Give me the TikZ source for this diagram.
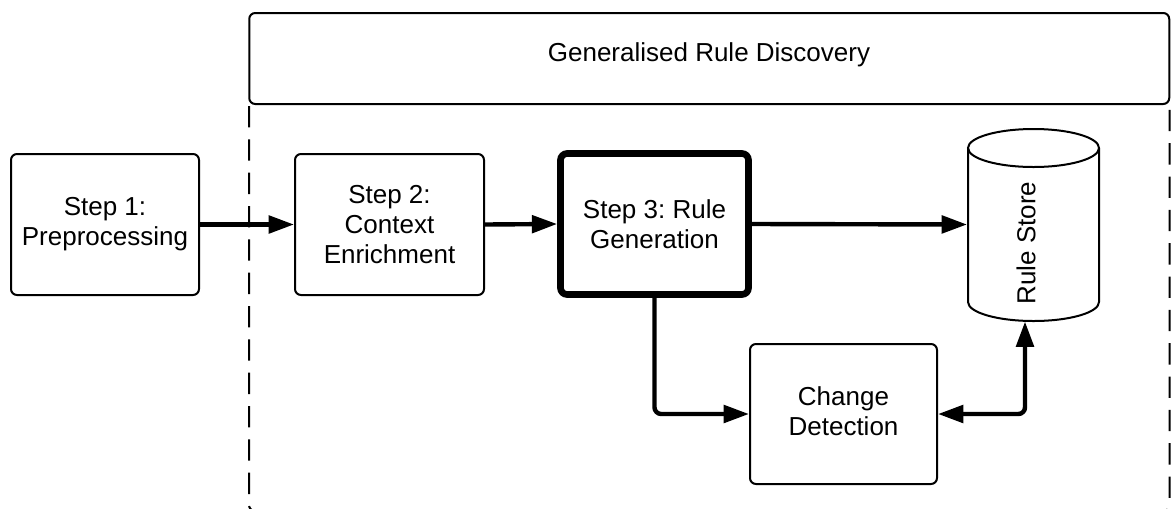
\documentclass[tikz,border=0pt]{standalone}
\usepackage{fontspec}
\setmainfont{Liberation Sans}
\usetikzlibrary{arrows.meta}
\frenchspacing
\begin{document}
\begin{tikzpicture}[x=0.75pt,y=-0.75pt,
  every node/.style={font=\fontsize{19.5pt}{22.5pt}\selectfont, align=center, inner sep=0pt},
  box/.style={draw, line width=1.5pt, rounded corners=4.5pt},
  thickbox/.style={draw, line width=5pt, rounded corners=5pt},
  arr/.style={line width=3.3pt, rounded corners=5pt,
    -{Triangle[length=19pt,width=13pt]}},
  dblarr/.style={line width=3.3pt, rounded corners=5pt,
    {Triangle[length=19pt,width=13pt]}-{Triangle[length=19pt,width=13pt]}},
  frame/.style={line width=1.5pt, dash pattern=on 16pt off 9pt, rounded corners=4.5pt}
]
\useasboundingbox (0,0) rectangle (1171,508);

% dashed container below the header
\draw[frame] (249,106) -- (249,511) -- (1169.5,511) -- (1169.5,106);

% header
\node[box, minimum width=690pt, minimum height=68.25pt] (hdr) at (709.25,58.5) {};
\node (hdrtxt) at (709,55) {Generalised Rule Discovery};

% process steps
\node[box, minimum width=141pt, minimum height=105.75pt] (s1) at (105,224.5)
  {Step 1:\\Preprocessing};
\node[box, minimum width=141.75pt, minimum height=105.75pt] (s2) at (389.5,224.5)
  {Step 2:\\Context\\Enrichment};
\node[thickbox, minimum width=141pt, minimum height=105.75pt] (s3) at (654.5,224)
  {Step 3: Rule\\Generation};
\node[box, minimum width=140.25pt, minimum height=105pt] (cd) at (843.5,414)
  {\raisebox{2pt}{\begin{tabular}{@{}c@{}}Change\\Detection\end{tabular}}};

% rule store cylinder
\draw[line width=1.5pt] (968,148) -- (968,302)
  arc[start angle=180, end angle=0, x radius=65.5, y radius=19] -- (1099,148);
\draw[line width=1.5pt] (1033.5,148) ellipse[x radius=65.5, y radius=19];
\node[rotate=90] (store) at (1026,243) {Rule Store};
\coordinate (storeL) at (967,224.5);
\coordinate (storeB) at (1025,321.5);

% connectors
\draw[arr] (s1.east) -- (s2.west);
\draw[arr] (s2.east) -- (s3.west);
\draw[arr] (s3.east) -- (storeL);
\draw[arr] (s3.south) |- (cd.west);
\draw[dblarr] (cd.east) -| (storeB);
\end{tikzpicture}
\end{document}
